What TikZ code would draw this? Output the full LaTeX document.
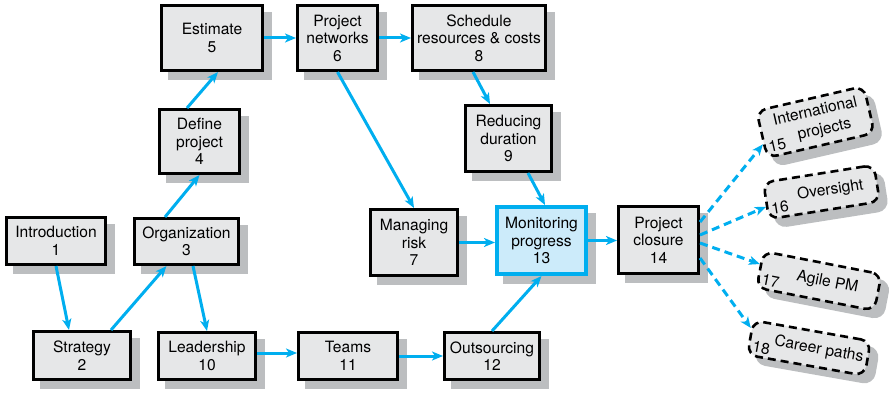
\documentclass[tikz,border=0pt]{standalone}
\usepackage{fontspec}
\setmainfont{TeX Gyre Heros}
\usetikzlibrary{arrows.meta,calc}
\definecolor{flow}{HTML}{00AEEF}
\definecolor{boxfill}{HTML}{E6E7E8}
\definecolor{shade}{HTML}{BCBEC0}
\definecolor{monfill}{HTML}{CCEBFA}
\newcommand{\boxfont}{\fontsize{15.6}{17.5}\selectfont}
\newcommand{\loosefont}{\fontsize{15.6}{19.5}\selectfont}

\begin{document}
\begin{tikzpicture}[x=1pt,y=-1pt,
  shadowed/.style={preaction={draw=shade,fill=shade,solid,
      transform canvas={xshift=8pt,yshift=-8pt}}},
  sz/.style 2 args={minimum width=#1pt,minimum height=#2pt},
  topic/.style={shadowed,draw=black,line width=3pt,fill=boxfill,
      align=center,inner sep=0pt,font=\boxfont},
  focus/.style={topic,draw=flow,line width=4pt,fill=monfill},
  extra/.style={shadowed,draw=black,line width=2.6pt,
      dash pattern=on 8pt off 5pt,rounded corners=10pt,fill=boxfill,
      align=center,inner sep=0pt,font=\boxfont},
  num/.style={font=\boxfont,inner sep=5pt},
  link/.style={draw=flow,line width=3pt,
      -{Stealth[length=11pt,width=9pt,inset=3pt]}},
  future/.style={link,dash pattern=on 8pt off 5pt},
]
\path[use as bounding box] (0,0) rectangle (896,396);

% chapter boxes
\node[topic,sz={99}{47}] (intro) at (56,241) {Introduction\\1};
\node[topic,sz={97}{48}] (strat) at (82,355.5) {Strategy\\2};
\node[topic,sz={104}{46}] (org) at (186.5,241.5) {Organization\\3};
\node[topic,sz={80}{64}] (define) at (199.5,141.5) {Define\\project\\4};
\node[topic,sz={101}{65}] (est) at (212,38) {Estimate\\5};
\node[topic,sz={80}{65}] (net) at (337.5,38) {Project\\networks\\6};
\node[topic,sz={133}{65}] (sched) at (479,38) {Schedule\\resources \& costs\\8};
\node[topic,sz={86}{66}] (reduce) at (508.5,138.5) {Reducing\\duration\\9};
\node[topic,sz={87}{66}] (risk) at (414,242.5) {Managing\\risk\\7};
\node[focus,sz={89}{67}] (monitor) at (541.5,240.5) {Monitoring\\progress\\13};
\node[topic,sz={80}{67}] (close) at (658.5,240) {Project\\closure\\14};
\node[topic,sz={97}{47}] (lead) at (207,356) {Leadership\\10};
\node[topic,sz={99}{47}] (teams) at (348,356) {Teams\\11};
\node[topic,sz={95}{47}] (out) at (492,356) {Outsourcing\\12};

% extension topics
\node[extra,font=\loosefont,sz={110}{48},rotate=13] (intl) at (815.5,122)
  {\hspace*{4pt}International\\\hspace*{14pt}projects};
\node[extra,sz={112}{37},rotate=9] (over) at (821.5,192) {\hspace*{18pt}Oversight};
\node[extra,sz={120}{37},rotate=-11] (agile) at (819,281) {\hspace*{17pt}Agile PM};
\node[extra,sz={119}{35},rotate=-10] (career) at (809,348) {\hspace*{20pt}Career paths};
\node[num,rotate=13,anchor=south west] (n15) at (intl.south west) {15};
\node[num,rotate=9,anchor=south west] (n16) at (over.south west) {16};
\node[num,rotate=-11,anchor=south west] (n17) at (agile.south west) {17};
\node[num,rotate=-10,anchor=south west] (n18) at (career.south west) {18};

% flow between chapters
\draw[link] (intro.south) -- ([xshift=-13pt]strat.north);
\draw[link] ([xshift=29pt]strat.north) -- ([xshift=-20pt]org.south);
\draw[link] ([xshift=6.5pt]org.south) -- (lead.north);
\draw[link] ([xshift=-21.5pt]org.north) -- (define.south);
\draw[link] ([xshift=-12.5pt]define.north) -- ([xshift=6pt]est.south);
\draw[link] (est.east) -- (net.west);
\draw[link] (net.east) -- (sched.west);
\draw[link] (net.south) -- (risk.north);
\draw[link] ([xshift=-6pt]sched.south) -- ([xshift=-18.5pt]reduce.north);
\draw[link] ([xshift=19.5pt]reduce.south) -- ([xshift=3.5pt]monitor.north);
\draw[link] (risk.east) -- (risk.east -| monitor.west);
\draw[link] ([yshift=3pt]lead.east) -- ([yshift=3pt]lead.east -| teams.west);
\draw[link] (teams.east) -- (teams.east -| out.west);
\draw[link] (out.north) -- (monitor.south);
\draw[link] (monitor.east) -- (monitor.east -| close.west);

% toward the extension topics
\draw[future] ([yshift=18pt]close.east) -- (intl.190);
\draw[future] ([yshift=5pt]close.east) -- (over.186);
\draw[future] ([yshift=-3pt]close.east) -- (agile.175);
\draw[future] ([yshift=-18pt]close.east) -- (career.171);
\end{tikzpicture}
\end{document}
